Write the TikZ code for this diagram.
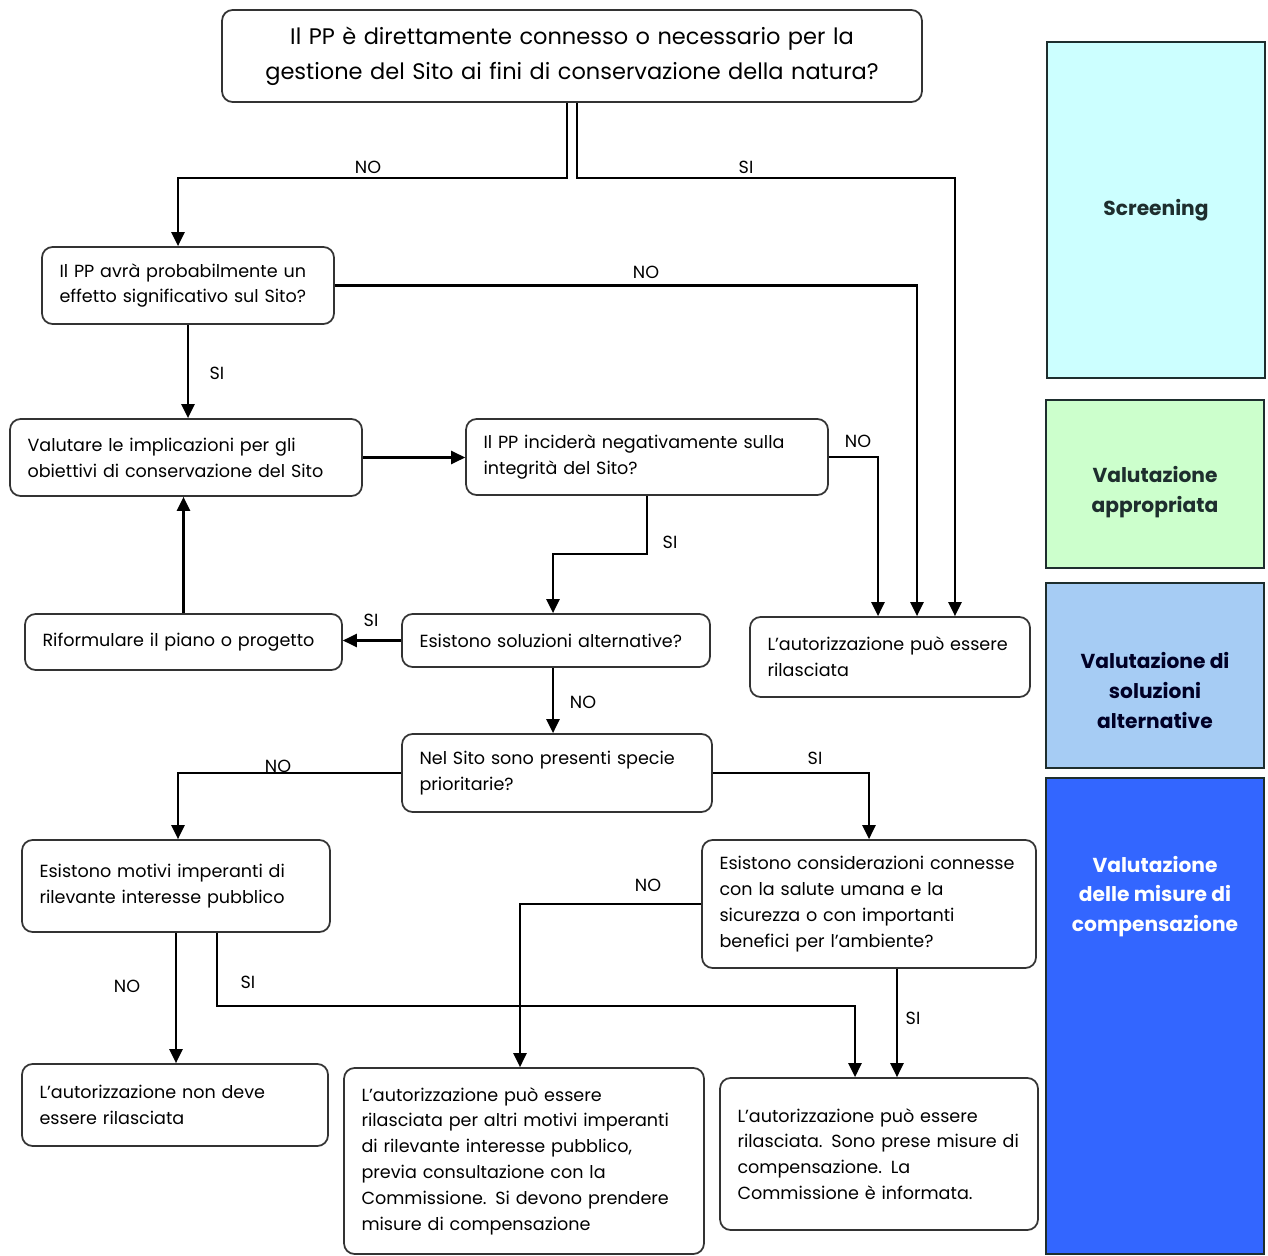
\documentclass[tikz,border=0pt]{standalone}
\usepackage{fontspec}
\setmainfont{Poppins}
\usetikzlibrary{
    arrows.meta,
    positioning,
}
\definecolor{screencol}{HTML}{CCFFFF}
\definecolor{appcol}{HTML}{CCFFCC}
\definecolor{altcol}{HTML}{A6CCF4}
\definecolor{compcol}{HTML}{3366FF}
\definecolor{edgecol}{HTML}{1E2E2E}
\tikzset{
    stepbox/.style={draw=black!80, line width=1pt, rounded corners=6pt, align=left, inner xsep=0.35cm, inner ysep=2pt, font=\fontsize{10}{14.7}\selectfont},
    phase/.style={draw=edgecol, line width=1pt, minimum width=4.36cm, align=center, text=edgecol, font=\fontsize{11.5}{17}\selectfont\bfseries},
    lbl/.style={font=\fontsize{10}{12}\selectfont, inner sep=1pt},
    link/.style={line width=1.3pt, -{Triangle[length=8pt, width=7.5pt]}},
}
\begin{document}
\begin{tikzpicture}[x=0.02cm, y=-0.02cm]
    \useasboundingbox (0,0) rectangle (1268,1256);

    % ===== QUESTIONS AND OUTCOMES =====
    \node[stepbox, align=center, text width=13.3cm, minimum height=1.84cm, font=\fontsize{12.8}{20}\selectfont] (top) at (572,56)
        {Il PP è direttamente connesso o necessario per la\\gestione del Sito ai fini di conservazione della natura?};
    \node[stepbox, text width=5.14cm, minimum height=1.54cm] (q2) at (188,285.5)
        {Il PP avrà probabilmente un\\effetto significativo sul Sito?};
    \node[stepbox, text width=6.34cm, minimum height=1.54cm] (val) at (186,457.5)
        {Valutare le implicazioni per gli\\obiettivi di conservazione del Sito};
    \node[stepbox, text width=6.54cm, minimum height=1.52cm] (inc) at (647,457)
        {Il PP inciderà negativamente sulla\\integrità del Sito?};
    \node[stepbox, text width=5.64cm, minimum height=1.12cm] (rif) at (183.5,642)
        {Riformulare il piano o progetto};
    \node[stepbox, text width=5.46cm, minimum height=1.06cm] (sol) at (556,640.5)
        {Esistono soluzioni alternative?};
    \node[stepbox, text width=4.9cm, minimum height=1.6cm] (aut) at (890,657)
        {L'autorizzazione può essere\\rilasciata};
    \node[stepbox, text width=5.5cm, minimum height=1.56cm] (nel) at (557,773)
        {Nel Sito sono presenti specie\\prioritarie?};
    \node[stepbox, text width=5.46cm, minimum height=1.84cm] (mot) at (176,886)
        {Esistono motivi imperanti di\\rilevante interesse pubblico};
    \node[stepbox, text width=5.98cm, minimum height=2.56cm] (con) at (869,904)
        {Esistono considerazioni connesse\\con la salute umana e la\\sicurezza o con importanti\\benefici per l'ambiente?};
    \node[stepbox, text width=5.42cm, minimum height=1.64cm] (nd) at (175,1105)
        {L'autorizzazione non deve\\essere rilasciata};
    \node[stepbox, text width=6.5cm, minimum height=3.72cm] (alt) at (524,1161)
        {L'autorizzazione può essere\\rilasciata per altri motivi imperanti\\di rilevante interesse pubblico,\\previa consultazione con la\\Commissione. Si devono prendere\\misure di compensazione};
    \node[stepbox, text width=5.66cm, minimum height=3.04cm] (pre) at (879,1154)
        {L'autorizzazione può essere\\rilasciata. Sono prese misure di\\compensazione. La\\Commissione è informata.};

    % ===== PHASES =====
    \node[phase, fill=screencol, minimum height=6.72cm] (screening) at (1156,210) {Screening};
    \node[phase, fill=appcol, minimum height=3.36cm,
        label={[anchor=center, yshift=-0.16cm, align=center, text=edgecol, font=\fontsize{11.5}{17}\selectfont\bfseries]center:{Valutazione\\appropriata}}] (appropriata) at (1155,484) {};
    \node[phase, fill=altcol, minimum height=3.7cm,
        label={[anchor=center, yshift=-0.3cm, align=center, text=black!85!blue, font=\fontsize{11.5}{17}\selectfont\bfseries]center:{Valutazione di\\soluzioni\\alternative}}] (alternative) at (1155,675.5) {};
    \node[phase, fill=compcol, minimum height=9.52cm,
        label={[anchor=north, yshift=-1.45cm, align=center, text=white, font=\fontsize{11.5}{17}\selectfont\bfseries]north:{Valutazione\\delle misure di\\compensazione}}] (compensazione) at (1155,1016) {};

    % ===== CONNECTIONS =====
    \draw[link] ([xshift=-1mm]top.south) -- ++(0,75) -| ([xshift=-0.2cm]q2.north);
    \draw[link] ([xshift=1mm]top.south) -- ++(0,75) -| ([xshift=1.3cm]aut.north);
    \draw[link] (q2.east) -| ([xshift=0.54cm]aut.north);
    \draw[link] (q2.south) -- (q2.south |- val.north);
    \draw[link] (val.east) -- (val.east -| inc.west);
    \draw[link] (inc.east) -| ([xshift=-0.24cm]aut.north);
    \draw[link] (inc.south) -- ++(0,58) -| ([xshift=-0.06cm]sol.north);
    \draw[link] (sol.west) -- (sol.west -| rif.east);
    \draw[link] (rif.north) -- (rif.north |- val.south);
    \draw[link] ([xshift=-0.06cm]sol.south) -- ([xshift=-0.06cm]sol.south |- nel.north);
    \draw[link] (nel.west) -| ([xshift=0.04cm]mot.north);
    \draw[link] (nel.east) -| (con.north);
    \draw[link] (mot.south) -- (mot.south |- nd.north);
    \draw[link] ([xshift=0.82cm]mot.south) -- ++(0,73) -| ([xshift=-0.48cm]pre.north);
    \draw[link] (con.west) -| ([xshift=-0.08cm]alt.north);
    \draw[link] ([xshift=0.56cm]con.south) -- ([xshift=0.56cm]con.south |- pre.north);

    % ===== LABELS =====
    \node[lbl] (l_top_no) at (368,167) {NO};
    \node[lbl] (l_top_si) at (746,167) {SI};
    \node[lbl] (l_q2_no) at (646,272) {NO};
    \node[lbl] (l_q2_si) at (217,373) {SI};
    \node[lbl] (l_inc_no) at (858,441) {NO};
    \node[lbl] (l_inc_si) at (670,542) {SI};
    \node[lbl] (l_sol_si) at (371,620) {SI};
    \node[lbl] (l_sol_no) at (583,702) {NO};
    \node[lbl] (l_nel_no) at (278,766) {NO};
    \node[lbl] (l_nel_si) at (815,758) {SI};
    \node[lbl] (l_mot_no) at (127,986) {NO};
    \node[lbl] (l_mot_si) at (248,982) {SI};
    \node[lbl] (l_con_no) at (648,885) {NO};
    \node[lbl] (l_con_si) at (913,1018) {SI};
\end{tikzpicture}
\end{document}
